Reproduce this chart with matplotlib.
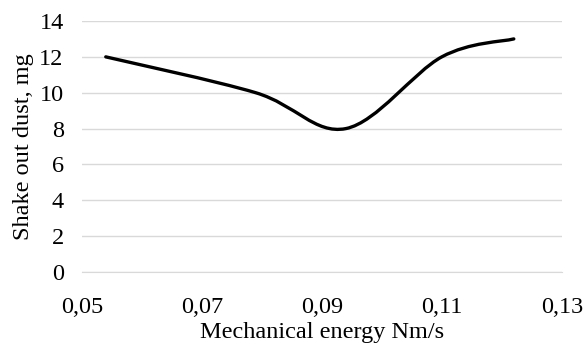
import numpy as np
import matplotlib.pyplot as plt
from matplotlib.path import Path
from matplotlib.patches import PathPatch

energy = [0.054, 0.079, 0.094, 0.110, 0.122]
dust = [12, 10, 8, 12, 13]
xticks = [0.05, 0.07, 0.09, 0.11, 0.13]
xticklabels = ['0,05', '0,07', '0,09', '0,11', '0,13']
yticks = [0, 2, 4, 6, 8, 10, 12, 14]

plt.rcParams['font.family'] = 'Liberation Serif'

fig = plt.figure(figsize=(5.84, 3.44), dpi=100)
ax = fig.add_axes([0.140, 0.209, 0.822, 0.730])

# excel-style smoothed line: cubic bezier through the points
pts = np.column_stack([energy, dust]).astype(float)
n = len(pts)
verts = [pts[0]]
codes = [Path.MOVETO]
for i in range(n - 1):
    p0 = pts[i - 1] if i > 0 else pts[i]
    p1 = pts[i]
    p2 = pts[i + 1]
    p3 = pts[i + 2] if i + 2 < n else pts[i + 1]
    c1 = p1 + (p2 - p0) / 6
    c2 = p2 - (p3 - p1) / 6
    verts += [c1, c2, p2]
    codes += [Path.CURVE4] * 3
path = Path(verts, codes)
ax.add_patch(PathPatch(path, facecolor='none', edgecolor='black', lw=2.4,
                       capstyle='round', joinstyle='round', zorder=3))

ax.set_xlim(0.05, 0.13)
ax.set_ylim(0, 14)
ax.set_xticks(xticks)
ax.set_xticklabels(xticklabels)
ax.set_yticks(yticks)
ax.grid(axis='y', color='#d9d9d9', lw=1)
for s in ['top', 'right', 'left']:
    ax.spines[s].set_visible(False)
ax.spines['bottom'].set_color('#d9d9d9')
ax.tick_params(length=0, labelsize=17.5, colors='black')
ax.tick_params(axis='x', pad=18)
ax.tick_params(axis='y', pad=13)
ax.set_xlabel('Mechanical energy Nm/s', fontsize=17.5, labelpad=3)
ax.set_ylabel('Shake out dust, mg', fontsize=17.5, labelpad=4)

plt.savefig('out.png', dpi=100)
